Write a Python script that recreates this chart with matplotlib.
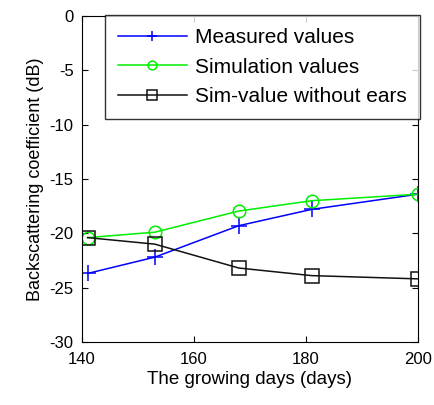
import matplotlib
matplotlib.use("Agg")
import matplotlib.pyplot as plt

days = [141, 153, 168, 181, 200]
measured = [-23.7, -22.2, -19.3, -17.8, -16.4]
simulation = [-20.4, -19.9, -17.95, -17.0, -16.4]
sim_no_ears = [-20.4, -21.0, -23.2, -23.9, -24.2]

plt.rcParams["font.family"] = "Liberation Sans"
plt.rcParams["axes.unicode_minus"] = False

fig = plt.figure(figsize=(4.34, 4.05), dpi=100)
ax = fig.add_axes([0.189, 0.156, 0.774, 0.804])

ax.plot(days, measured, color="#0000ff", lw=1.1, marker="+", markersize=11,
        markeredgewidth=1.1, label="Measured values")
ax.plot(days, simulation, color="#00ee00", lw=1.1, marker="o", markersize=9,
        markerfacecolor="none", markeredgewidth=1.1, label="Simulation values")
ax.plot(days, sim_no_ears, color="#111111", lw=1.1, marker="s", markersize=10,
        markerfacecolor="none", markeredgewidth=1.1, label="Sim-value without ears")

ax.set_xlim(140, 200)
ax.set_ylim(-30, 0)
ax.set_xticks([140, 160, 180, 200])
ax.set_yticks([-30, -25, -20, -15, -10, -5, 0])
ax.tick_params(direction="in", top=True, right=True, labelsize=12, length=4)
ax.tick_params(axis="x", pad=7)
ax.tick_params(axis="y", pad=6)
ax.set_xlabel("The growing days (days)", fontsize=13.5, labelpad=3)
ax.set_ylabel("Backscattering coefficient (dB)", fontsize=13)

leg = ax.legend(loc="upper right", bbox_to_anchor=(1.005, 1.003), fontsize=15,
                frameon=True, fancybox=False, edgecolor="black", borderaxespad=0,
                handlelength=3.3, handletextpad=0.4, labelspacing=0.5,
                borderpad=0.62, markerscale=0.7)
leg.get_frame().set_linewidth(1.0)

fig.savefig("out.png", dpi=100)
